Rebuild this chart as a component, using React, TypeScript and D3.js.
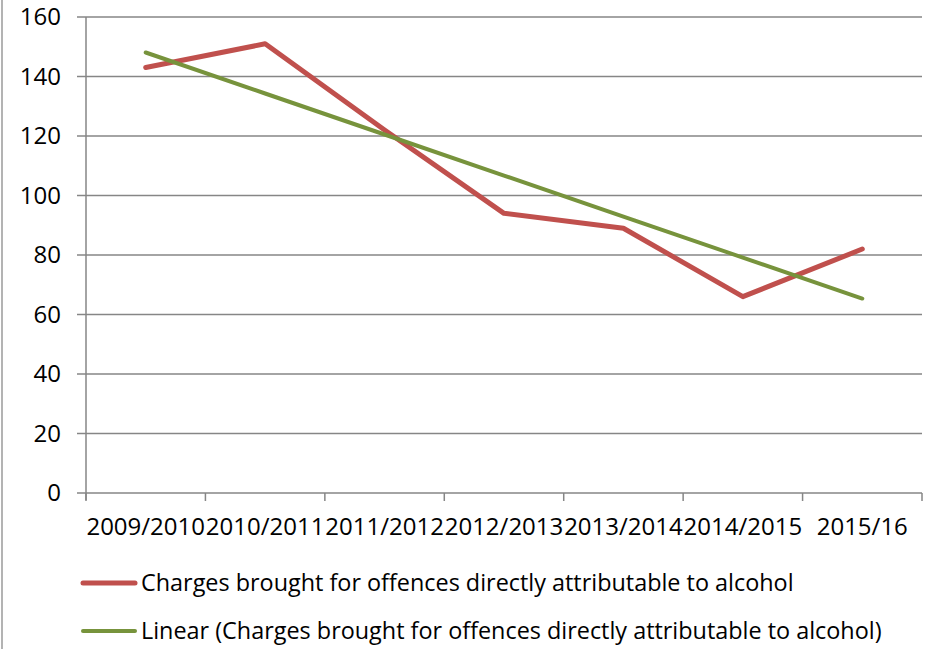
import React from "react";
import * as d3 from "d3";

const categories = ["2009/2010", "2010/2011", "2011/2012", "2012/2013", "2013/2014", "2014/2015", "2015/16"];
const charges = [143, 151, 122, 94, 89, 66, 82];
const yTicks = [0, 20, 40, 60, 80, 100, 120, 140, 160];
const seriesName = "Charges brought for offences directly attributable to alcohol";
const trendName = "Linear (Charges brought for offences directly attributable to alcohol)";

const W = 935, H = 649;
const M = { left: 86, right: 922, top: 17, bottom: 493 };
const FONT = "'Open Sans', sans-serif";
const RED = "#C0504D";
const GREEN = "#77933C";
const GRID = "#868686";

export default function App() {
  const x = d3.scaleBand<string>().domain(categories).range([M.left, M.right]);
  const y = d3.scaleLinear().domain([0, 160]).range([M.bottom, M.top]);
  const cx = (c: string) => (x(c) as number) + x.bandwidth() / 2;

  // least-squares linear trendline (as Excel's "Linear" trendline)
  const xs = charges.map((_, i) => i + 1);
  const mx = d3.mean(xs) as number;
  const my = d3.mean(charges) as number;
  const slope = d3.sum(xs.map((xi, i) => (xi - mx) * (charges[i] - my))) / d3.sum(xs.map((xi) => (xi - mx) ** 2));
  const intercept = my - slope * mx;
  const trend = xs.map((xi) => intercept + slope * xi);

  const line = d3.line<number>().x((_, i) => cx(categories[i])).y((d) => y(d));
  const boundaries = [...categories.map((c) => x(c) as number), M.right];

  return (
    <svg width={W} height={H} style={{ position: "absolute", left: 0, top: 0, background: "#fff" }} fontFamily={FONT}>
      <rect x={0} y={0} width={W} height={H} fill="#fff" />
      <line x1={2} x2={2} y1={0} y2={H} stroke="#9a9a9a" strokeWidth={1.5} />
      {yTicks.map((t) => (
        <g key={t}>
          <line x1={M.left - 9} x2={M.right} y1={y(t)} y2={y(t)} stroke={GRID} strokeWidth={1.5} />
          <text x={61} y={y(t)} dy="0.35em" textAnchor="end" fontSize={24} fill="#000">{t}</text>
        </g>
      ))}
      <line x1={M.left} x2={M.left} y1={M.top} y2={M.bottom + 7} stroke={GRID} strokeWidth={1.5} />
      {boundaries.map((b, i) => (
        <line key={i} x1={b} x2={b} y1={M.bottom} y2={M.bottom + 8} stroke={GRID} strokeWidth={1.5} />
      ))}
      {categories.map((c) => (
        <text key={c} x={cx(c)} y={535} textAnchor="middle" fontSize={24} fill="#000">{c}</text>
      ))}
      <path d={line(charges) || ""} fill="none" stroke={RED} strokeWidth={5} strokeLinejoin="round" strokeLinecap="round" />
      <path d={line(trend) || ""} fill="none" stroke={GREEN} strokeWidth={4} strokeLinecap="round" />
      <line x1={83} x2={135} y1={583} y2={583} stroke={RED} strokeWidth={5} strokeLinecap="round" />
      <text x={141} y={591} fontSize={23.4} fill="#000">{seriesName}</text>
      <line x1={83} x2={135} y1={631} y2={631} stroke={GREEN} strokeWidth={4} strokeLinecap="round" />
      <text x={141} y={639} fontSize={23.4} fill="#000">{trendName}</text>
    </svg>
  );
}
